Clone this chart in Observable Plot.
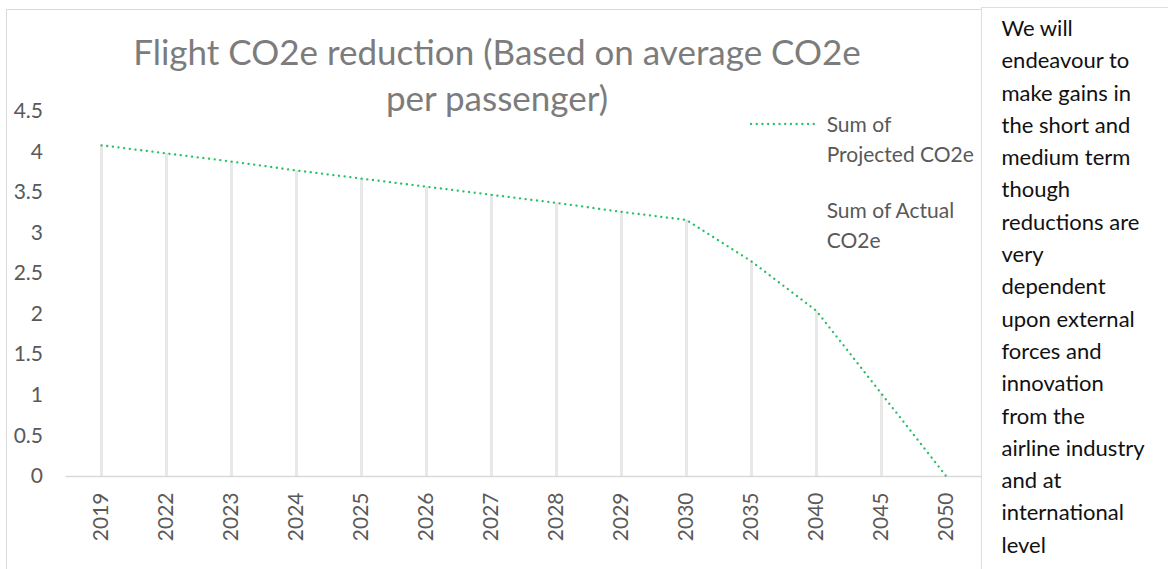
<!DOCTYPE html>
<html>
<head>
<meta charset="utf-8">
<script src="https://cdn.jsdelivr.net/npm/d3@7"></script>
<script src="https://cdn.jsdelivr.net/npm/@observablehq/plot@0.6"></script>
<style>
  html, body { margin: 0; padding: 0; background: #fff; }
  #wrap { position: relative; width: 1168px; height: 569px; overflow: hidden; background: #fff; font-family: Lato, "Open Sans", sans-serif; }
  #frame { position: absolute; left: 5.5px; top: 9px; width: 2000px; height: 2000px; border-left: 1px solid #d9d9d9; border-top: 1px solid #d9d9d9; }
  #plot { position: absolute; left: 0; top: 0; }
  #title { position: absolute; left: -3px; width: 1000px; top: 28px; text-align: center; font-size: 35px; line-height: 46px; color: #7c7c7c; white-space: nowrap; }
  .legend { position: absolute; left: 826.7px; font-size: 21px; line-height: 29.3px; color: #595959; white-space: nowrap; }
  #legsample { position: absolute; left: 749px; top: 120px; }
  #note { position: absolute; left: 981px; top: 6.5px; width: 400px; height: 1000px; border: 1.5px solid #dedede; background: #fff; }
  #noteText { position: absolute; left: 19.5px; top: 4.5px; font-size: 22px; line-height: 32.3px; color: #111; white-space: nowrap; }
</style>
</head>
<body>
<div id="wrap">
  <div id="frame"></div>
  <div id="plotHolder"></div>
  <div id="title"></div>
  <svg id="legsample" width="70" height="8"></svg>
  <div class="legend" id="leg1" style="top:109.4px"></div>
  <div class="legend" id="leg2" style="top:195.4px"></div>
  <div id="note"><div id="noteText"></div></div>
</div>
<script>
// ---- data ----
const years = ["2019","2022","2023","2024","2025","2026","2027","2028","2029","2030","2035","2040","2045","2050"];
const projected = [4.08, 3.98, 3.88, 3.77, 3.67, 3.57, 3.47, 3.37, 3.26, 3.16, 2.65, 2.04, 1.02, 0];
const yTicks = [0, 0.5, 1, 1.5, 2, 2.5, 3, 3.5, 4, 4.5];
const titleLines = ["Flight CO2e reduction (Based on average CO2e", "per passenger)"];
const legendProjected = ["Sum of", "Projected CO2e"];
const legendActual = ["Sum of Actual", "CO2e"];
const noteLines = ["We will", "endeavour to", "make gains in", "the short and", "medium term", "though", "reductions are", "very", "dependent", "upon external", "forces and", "innovation", "from the", "airline industry", "and at", "international", "level"];

const green = "#27c266";
const data = years.map((y, i) => ({year: y, value: projected[i]}));

const chart = Plot.plot({
  width: 1168,
  height: 569,
  marginLeft: 65.5,
  marginRight: 187,
  marginTop: 110.7,
  marginBottom: 93,
  style: {fontFamily: "Lato, 'Open Sans', sans-serif", fontSize: "21px", color: "#595959", background: "transparent", overflow: "visible"},
  x: {type: "point", domain: years, padding: 0.5, label: null, tickSize: 0, tickRotate: -90, tickPadding: 16},
  y: {domain: [0, 4.5], ticks: yTicks, tickFormat: d => String(d), label: null, tickSize: 0, tickPadding: 23},
  marks: [
    Plot.ruleX(data.filter(d => d.value > 0), {x: "year", y1: 0, y2: "value", stroke: "#e8e8e8", strokeWidth: 3}),
    Plot.ruleY([0], {stroke: "#d9d9d9", strokeWidth: 1.5}),
    Plot.lineY(data, {x: "year", y: "value", stroke: green, strokeWidth: 2.3, strokeDasharray: "0.1,5.6", strokeLinecap: "round"})
  ]
});
chart.id = "plot";
document.getElementById("plotHolder").appendChild(chart);

document.getElementById("title").innerHTML = titleLines.join("<br>");
document.getElementById("leg1").innerHTML = legendProjected.join("<br>");
document.getElementById("leg2").innerHTML = legendActual.join("<br>");
document.getElementById("noteText").innerHTML = noteLines.join("<br>");

// legend sample line
const ls = d3.select("#legsample");
ls.append("line").attr("x1", 2).attr("x2", 66).attr("y1", 4).attr("y2", 4)
  .attr("stroke", green).attr("stroke-width", 2.3).attr("stroke-dasharray", "0.1,5.6").attr("stroke-linecap", "round");
</script>
</body>
</html>
